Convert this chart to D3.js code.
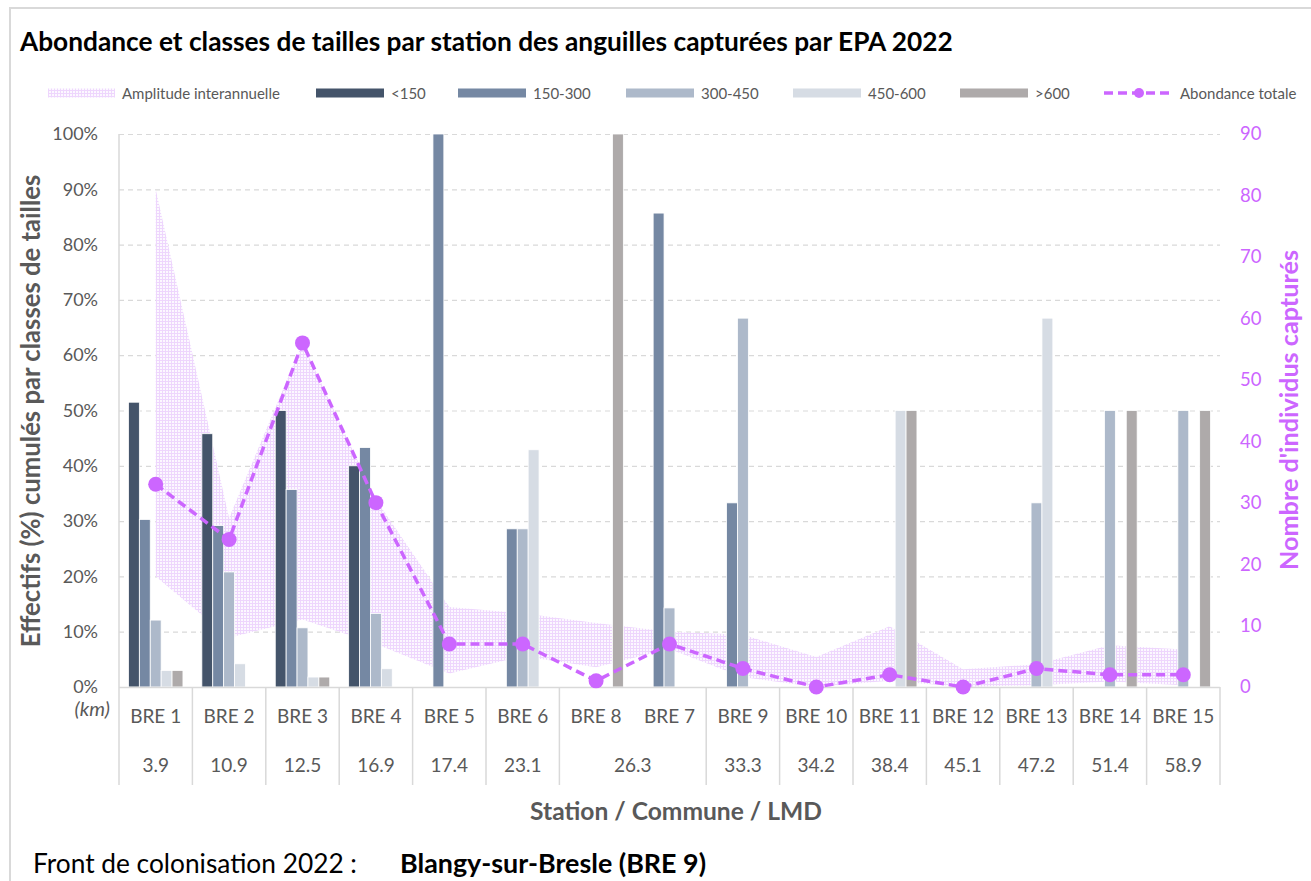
<!DOCTYPE html>
<html><head><meta charset="utf-8">
<script src="https://cdn.jsdelivr.net/npm/d3@7"></script>
<style>body{margin:0;background:#fff;} svg{display:block;font-family:Lato,"Open Sans",sans-serif;}</style>
</head><body><svg id="c" width="1311" height="881"></svg>
<script>
// ---------- DATA ----------
const stations = ["BRE 1","BRE 2","BRE 3","BRE 4","BRE 5","BRE 6","BRE 8","BRE 7","BRE 9","BRE 10","BRE 11","BRE 12","BRE 13","BRE 14","BRE 15"];
const km = ["3.9","10.9","12.5","16.9","17.4","23.1","26.3","26.3","33.3","34.2","38.4","45.1","47.2","51.4","58.9"];
const sizeClasses = ["<150","150-300","300-450","450-600",">600"];
const pctLt150   = [51.5,45.8,50.0,40.0,0,0,0,0,0,0,0,0,0,0,0];
const pct150_300 = [30.3,29.2,35.7,43.3,100,28.6,0,85.7,33.3,0,0,0,0,0,0];
const pct300_450 = [12.1,20.8,10.7,13.3,0,28.6,0,14.3,66.7,0,0,0,33.3,50,50];
const pct450_600 = [3.0,4.2,1.8,3.3,0,42.9,0,0,0,0,50,0,66.7,0,0];
const pctGt600   = [3.0,0,1.8,0,0,0,100,0,0,0,50,0,0,50,50];
const abundance  = [33,24,56,30,7,7,1,7,3,0,2,0,3,2,2];
const amplitudeMin = [18,8,11,7,2.2,5,3.2,6.2,1.6,0,1,0,0.3,0.9,0.3];
const amplitudeMax = [81,27.5,56,30.5,13,12,10.4,9,8.5,4.9,9.9,2.9,3.7,6.8,6.1];
const leftTicks  = [0,10,20,30,40,50,60,70,80,90,100];
const rightTicks = [0,10,20,30,40,50,60,70,80,90];
const title = "Abondance et classes de tailles par station des anguilles capturées par EPA 2022";
const legendLabels = ["Amplitude interannuelle","<150","150-300","300-450","450-600",">600","Abondance totale"];

// ---------- STYLE ----------
const classColors = ["#44546a","#7588a3","#adb9ca","#d6dce4","#aeaaaa"];
const violet = "#cc66ff";
const grey = "#595959";

const svg = d3.select("#c");
const L = 119, R = 1220, T = 134, B = 687;

function fit(sel, target){
  const w = sel.node().getComputedTextLength();
  const fs = parseFloat(sel.attr("font-size"));
  sel.attr("font-size", (fs*target/w).toFixed(2));
  return sel;
}

// pattern
const defs = svg.append("defs");
const pat = defs.append("pattern").attr("id","grid").attr("width",3).attr("height",3).attr("patternUnits","userSpaceOnUse");
pat.append("rect").attr("width",3).attr("height",3).attr("fill","#fcf8ff");
pat.append("rect").attr("width",3).attr("height",1).attr("fill","#eed6fd");
pat.append("rect").attr("width",1).attr("height",3).attr("fill","#eed6fd");

// frame
svg.append("rect").attr("x",10).attr("y",8).attr("width",1330).attr("height",900)
  .attr("fill","none").attr("stroke","#d9d9d9").attr("stroke-width",2);

// title
fit(svg.append("text").attr("x",20).attr("y",51).attr("font-weight","bold").attr("font-size",22)
  .attr("fill","#000").text(title), 933);

// scales
const x = d3.scaleBand().domain(stations).range([L,R]).padding(0);
const bw = x.bandwidth();
const gw = 54.5;
const sub = d3.scaleBand().domain(sizeClasses).range([(bw-gw)/2,(bw+gw)/2]).padding(0);
const yL = d3.scaleLinear().domain([0,100]).range([B,T]);
const yR = d3.scaleLinear().domain([0,90]).range([B,T]);

// gridlines
svg.append("g").selectAll("line").data(leftTicks.filter(d=>d>0)).join("line")
  .attr("x1",L).attr("x2",R).attr("y1",d=>yL(d)+0.5).attr("y2",d=>yL(d)+0.5)
  .attr("stroke","#d9d9d9").attr("stroke-width",1.2).attr("stroke-dasharray","5,4");

// band
const cx = i => x(stations[i]) + bw/2;
const area = d3.area().x((d,i)=>cx(i)).y0((d,i)=>yR(amplitudeMin[i])).y1((d,i)=>yR(amplitudeMax[i]));
svg.append("path").datum(stations).attr("d",area).attr("fill","url(#grid)");

// bars
const series = [pctLt150,pct150_300,pct300_450,pct450_600,pctGt600];
const gBars = svg.append("g");
series.forEach((vals,k)=>{
  gBars.selectAll(null).data(vals.map((v,i)=>({v,i}))).join("rect")
    .filter(d=>d.v>0)
    .attr("x",d=>x(stations[d.i])+sub(sizeClasses[k]))
    .attr("width",sub.bandwidth())
    .attr("y",d=>yL(d.v)).attr("height",d=>B-yL(d.v))
    .attr("fill",classColors[k]).attr("stroke","#fff").attr("stroke-width",0.8);
});

// axes lines
svg.append("line").attr("x1",L).attr("x2",L).attr("y1",T).attr("y2",B).attr("stroke","#d9d9d9").attr("stroke-width",1.5);
svg.append("line").attr("x1",L).attr("x2",R).attr("y1",B+0.5).attr("y2",B+0.5).attr("stroke","#d9d9d9").attr("stroke-width",1.5);

// left axis
const axL = svg.append("g").attr("transform",`translate(${L},0)`)
  .call(d3.axisLeft(yL).tickValues(leftTicks).tickFormat(d=>d+"%").tickSize(0).tickPadding(21));
axL.select(".domain").remove();
axL.selectAll("text").attr("fill",grey).attr("font-size",18).attr("font-family","Lato");
svg.append("text").attr("x",110).attr("y",708).attr("text-anchor","end").attr("dominant-baseline","central")
  .attr("font-style","italic").attr("font-size",20).attr("fill",grey).text("(km)");

// right axis
const axR = svg.append("g").attr("transform",`translate(${R},0)`)
  .call(d3.axisRight(yR).tickValues(rightTicks).tickSize(0).tickPadding(20));
axR.select(".domain").remove();
axR.selectAll("text").attr("fill",violet).attr("font-size",18.5).attr("font-family","Lato");

// x axis: station labels
const axX = svg.append("g").attr("transform",`translate(0,${B})`)
  .call(d3.axisBottom(x).tickSize(0).tickPadding(23));
axX.select(".domain").remove();
axX.selectAll("text").attr("fill",grey).attr("font-size",19).attr("font-family","Lato");

// km groups
const groups = [];
km.forEach((k,i)=>{ if(groups.length && groups[groups.length-1].k===k) groups[groups.length-1].end=i; else groups.push({k,start:i,end:i}); });
svg.append("g").selectAll("text").data(groups).join("text")
  .attr("x",g=>(x(stations[g.start])+x(stations[g.end])+bw)/2).attr("y",764)
  .attr("text-anchor","middle").attr("dominant-baseline","central")
  .attr("font-size",19).attr("fill",grey).text(g=>g.k);
const seps = [x(stations[0])].concat(groups.map(g=>x(stations[g.end])+bw));
svg.append("g").selectAll("line").data(seps).join("line")
  .attr("x1",d=>d).attr("x2",d=>d).attr("y1",B).attr("y2",785)
  .attr("stroke","#d9d9d9").attr("stroke-width",1.5);

// line + dots
const line = d3.line().x((d,i)=>cx(i)).y(d=>yR(d));
svg.append("path").datum(abundance).attr("d",line).attr("fill","none")
  .attr("stroke",violet).attr("stroke-width",3.5).attr("stroke-dasharray","9,5");
svg.append("g").selectAll("circle").data(abundance).join("circle")
  .attr("cx",(d,i)=>cx(i)).attr("cy",d=>yR(d)).attr("r",7.5).attr("fill",violet);

// axis titles
fit(svg.append("text").attr("transform","translate(40,411) rotate(-90)").attr("text-anchor","middle")
  .attr("font-weight","bold").attr("font-size",20).attr("fill",grey)
  .text("Effectifs (%) cumulés par classes de tailles"), 473);
fit(svg.append("text").attr("transform","translate(1298,410) rotate(-90)").attr("text-anchor","middle")
  .attr("font-weight","bold").attr("font-size",20).attr("fill",violet)
  .text("Nombre d'individus capturés"), 320);
fit(svg.append("text").attr("x",676).attr("y",820).attr("text-anchor","middle")
  .attr("font-weight","bold").attr("font-size",20).attr("fill",grey)
  .text("Station / Commune / LMD"), 292);

// bottom note
fit(svg.append("text").attr("x",33).attr("y",873).attr("font-size",20).attr("fill","#000")
  .text("Front de colonisation 2022 :"), 324);
fit(svg.append("text").attr("x",400).attr("y",873).attr("font-size",20).attr("font-weight","bold").attr("fill","#000")
  .text("Blangy-sur-Bresle (BRE 9)"), 306);

// legend
const legX = [48,316,458,626,793,960,1104];
const legY = 93;
const lg = svg.append("g");
legendLabels.forEach((lab,i)=>{
  const x0 = legX[i];
  if(i===0){
    lg.append("rect").attr("x",x0).attr("y",legY-4.5).attr("width",67).attr("height",9).attr("fill","url(#grid)");
  } else if(i<=5){
    lg.append("rect").attr("x",x0).attr("y",legY-4.5).attr("width",68).attr("height",9).attr("fill",classColors[i-1]);
  } else {
    lg.append("line").attr("x1",x0).attr("x2",x0+70).attr("y1",legY).attr("y2",legY)
      .attr("stroke",violet).attr("stroke-width",3.5).attr("stroke-dasharray","9,5");
    lg.append("circle").attr("cx",x0+35).attr("cy",legY).attr("r",5).attr("fill",violet);
  }
  lg.append("text").attr("x",x0+(i===0?74:(i===6?76:75))).attr("y",legY).attr("dominant-baseline","central")
    .attr("font-size",15).attr("fill",grey).text(lab);
});
</script></body></html>
